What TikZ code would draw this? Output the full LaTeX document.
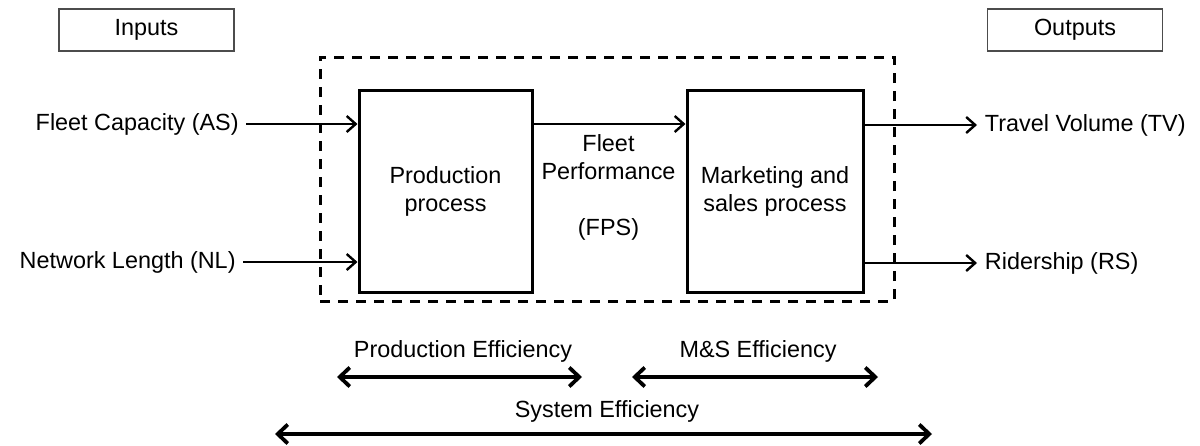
\documentclass[tikz,border=0pt]{standalone}
\usepackage{fontspec}
\setmainfont{Liberation Sans}
\usetikzlibrary{arrows.meta}

\tikzset{
    every node/.style={font=\fontsize{11.7}{14}\selectfont},
    head/.style={draw=black!70,line width=0.7pt,minimum width=87.5pt,minimum height=21pt,inner sep=0pt},
    process/.style={draw,line width=1.5pt,minimum height=101pt,align=center,inner sep=0pt},
    boundary/.style={draw,line width=1.5pt,dash pattern=on 5pt off 4pt,minimum width=287pt,minimum height=122pt},
    flow/.style={-{Straight Barb[length=4.5pt,width=8pt]},line width=1.2pt},
    span/.style={{Straight Barb[length=5pt,width=9.5pt]}-{Straight Barb[length=5pt,width=9.5pt]},line width=1.9pt}
}

\begin{document}
\begin{tikzpicture}[x=0.5pt,y=-0.5pt]
    \useasboundingbox (0,0) rectangle (1200,445);

    \node[head] (inputs) at (146.5,30) {Inputs};
    \node[head] (outputs) at (1075,30) {Outputs};

    \node[boundary] (system) at (607,179) {};
    \node[process,minimum width=86.5pt] (prod) at (445.5,191) {Production\\process};
    \node[process,minimum width=88pt] (mkt) at (775,191) {Marketing and\\sales process};
    \node[align=center] (fps) at (608.5,187) {Fleet\\Performance\\[14pt](FPS)};

    \node[anchor=east,inner sep=3.5pt] (as) at (246,124) {Fleet Capacity (AS)};
    \node[anchor=east,inner sep=3.5pt] (nl) at (243,262) {Network Length (NL)};
    \node[anchor=west,inner sep=3.75pt] (tv) at (977,125) {Travel Volume (TV)};
    \node[anchor=west,inner sep=3.75pt] (rs) at (977,263) {Ridership (RS)};

    \draw[flow] (as.east) -- (as.east -| prod.west);
    \draw[flow] (nl.east) -- (nl.east -| prod.west);
    \draw[flow] (as.east -| prod.east) -- (as.east -| mkt.west);
    \draw[flow] (tv.west -| mkt.east) -- (tv.west);
    \draw[flow] (rs.west -| mkt.east) -- (rs.west);

    \node (pe) at (463,351) {Production Efficiency};
    \node (mse) at (758,351) {M\&S Efficiency};
    \node (se) at (607,411) {System Efficiency};
    \coordinate (pe-l) at (337,377);
    \coordinate (pe-r) at (582,377);
    \coordinate (mse-l) at (632,377);
    \coordinate (mse-r) at (878,377);
    \coordinate (se-l) at (275,434);
    \coordinate (se-r) at (932,434);
    \draw[span] (pe-l) -- (pe-r);
    \draw[span] (mse-l) -- (mse-r);
    \draw[span] (se-l) -- (se-r);
\end{tikzpicture}
\end{document}
